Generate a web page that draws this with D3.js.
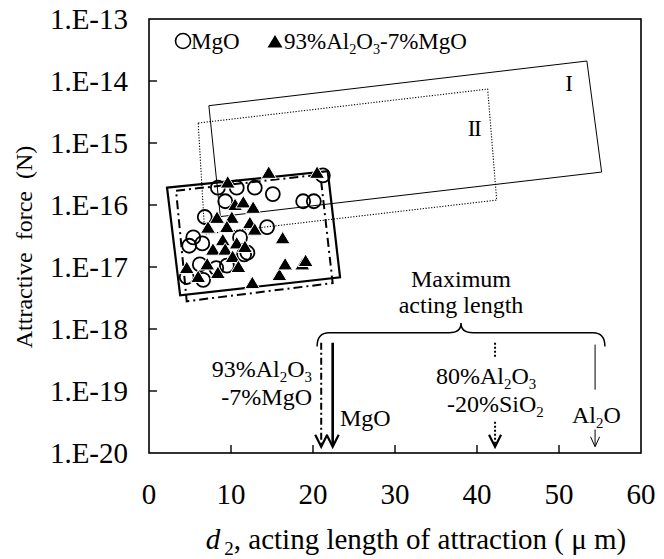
<!DOCTYPE html>
<html>
<head>
<meta charset="utf-8">
<script src="https://cdn.jsdelivr.net/npm/d3@7"></script>
<style>
  body { margin: 0; background: #fff; }
  svg text { font-family: "Liberation Serif", "Times New Roman", serif; fill: #000; white-space: pre; }
</style>
</head>
<body>
<div id="chart"></div>
<script>
// tick values
let xTicks = [0, 10, 20, 30, 40, 50, 60];
let yTicks = [1e-13, 1e-14, 1e-15, 1e-16, 1e-17, 1e-18, 1e-19, 1e-20];

// MgO measurements [d2 (um), force (N)]
let mgo = [
  [8.4, 1.9e-16], [10.7, 1.9e-16], [12.9, 1.9e-16], [15.1, 1.5e-16],
  [18.8, 1.15e-16], [20.1, 1.15e-16], [21.2, 3.0e-16], [9.3, 1.15e-16],
  [6.8, 6.4e-17], [14.4, 4.4e-17], [5.4, 3.0e-17], [6.5, 2.4e-17],
  [4.9, 2.2e-17], [12.0, 1.7e-17], [6.6, 6.2e-18], [11.1, 3.0e-17],
  [6.2, 1.1e-17], [9.5, 1.05e-17], [4.6, 6.9e-18], [8.2, 9.6e-18],
  [11.6, 1.6e-17]
];

// 93%Al2O3-7%MgO measurements [d2 (um), force (N)]
let alMgo = [
  [9.6, 2.3e-16], [14.6, 3.3e-16], [20.5, 3.3e-16], [10.5, 1.0e-16],
  [11.5, 1.1e-16], [12.7, 9.0e-17], [8.3, 6.2e-17], [10.1, 6.2e-17],
  [12.3, 5.1e-17], [7.2, 4.3e-17], [9.5, 4.4e-17], [12.9, 4.0e-17],
  [9.0, 2.7e-17], [10.7, 2.4e-17], [11.7, 2.1e-17], [16.3, 2.9e-17],
  [7.8, 1.9e-17], [9.3, 1.9e-17], [10.2, 1.45e-17], [10.9, 1.0e-17],
  [7.1, 1.1e-17], [8.4, 8.0e-18], [4.6, 9.6e-18], [6.0, 6.9e-18],
  [12.6, 5.5e-18], [15.9, 7.4e-18], [16.6, 1.1e-17], [18.7, 1.1e-17],
  [19.1, 1.25e-17]
];

// region outlines (corners in data units)
let boxI = [[7.3, 4.0e-15], [53.4, 2.1e-14], [55.2, 3.4e-16], [8.7, 6.5e-17]];
let boxII = [[6.0, 2.1e-15], [41.3, 7.4e-15], [42.4, 1.2e-16], [6.8, 3.4e-17]];
let boxMgo = [[2.2, 1.9e-16], [21.8, 3.5e-16], [23.3, 6.8e-18], [3.8, 3.5e-18]];
let boxAlMgo = [[3.3, 1.7e-16], [20.9, 3.1e-16], [22.4, 5.5e-18], [4.6, 2.8e-18]];

// maximum acting length arrows
let arrows = [
  { x: 21.0, top: 6e-19, tip: 1.26e-20, style: 'dashdot' },
  { x: 22.4, top: 6e-19, tip: 1.26e-20, style: 'thick' },
  { x: 42.2, top: 6e-19, tip: 1.26e-20, style: 'dotted', gap: [3.4e-19, 3.2e-20] },
  { x: 54.4, top: 5.6e-19, tip: 1.26e-20, style: 'thin', gap: [1.05e-19, 2.4e-20] }
];
let braceRange = [20.5, 55.6];

let width = 664, height = 559;
let svg = d3.select('#chart').append('svg')
  .attr('width', width)
  .attr('height', height);

let x = d3.scaleLinear().domain([0, 60]).range([149, 641]);
let y = d3.scaleLog().domain([1e-20, 1e-13]).range([453, 19]);

// frame
svg.append('rect')
  .attr('x', x(0)).attr('y', y(1e-13))
  .attr('width', x(60) - x(0)).attr('height', y(1e-20) - y(1e-13))
  .attr('fill', 'none').attr('stroke', '#000').attr('stroke-width', 1.6);

// ticks (inward)
svg.selectAll('.ytick').data(yTicks.slice(1, -1)).enter().append('line')
  .attr('x1', x(0)).attr('x2', x(0) + 8)
  .attr('y1', d => y(d)).attr('y2', d => y(d))
  .attr('stroke', '#000').attr('stroke-width', 1.4);
svg.selectAll('.xtick').data(xTicks.slice(1, -1)).enter().append('line')
  .attr('x1', d => x(d)).attr('x2', d => x(d))
  .attr('y1', y(1e-20)).attr('y2', y(1e-20) - 8)
  .attr('stroke', '#000').attr('stroke-width', 1.4);

// tick labels
svg.selectAll('.ylab').data(yTicks).enter().append('text')
  .attr('x', 128).attr('y', d => y(d))
  .attr('dy', '0.34em')
  .attr('text-anchor', 'end')
  .style('font-size', '29px')
  .text(d => '1.E' + Math.round(Math.log10(d)));
svg.selectAll('.xlab').data(xTicks).enter().append('text')
  .attr('x', d => x(d)).attr('y', 504)
  .attr('text-anchor', 'middle')
  .style('font-size', '29px')
  .text(d => d);

// axis titles
svg.append('text')
  .attr('transform', 'translate(32,247) rotate(-90)')
  .attr('text-anchor', 'middle')
  .style('font-size', '24px')
  .text('Attractive  force  (N)');

let xt = svg.append('text')
  .attr('x', 416).attr('y', 549)
  .attr('text-anchor', 'middle')
  .style('font-size', '29px');
xt.append('tspan').style('font-style', 'italic').text('d');
xt.append('tspan').attr('dy', 6).attr('dx', 4).style('font-size', '19px').text('2');
xt.append('tspan').attr('dy', -6).text(', acting length of attraction ( \u03bc m)');

// region outlines
let line = d3.line().x(d => x(d[0])).y(d => y(d[1])).curve(d3.curveLinearClosed);
svg.append('path').attr('d', line(boxI))
  .attr('fill', 'none').attr('stroke', '#000').attr('stroke-width', 1);
svg.append('path').attr('d', line(boxII))
  .attr('fill', 'none').attr('stroke', '#000').attr('stroke-width', 1.1)
  .attr('stroke-dasharray', '1.2,1.6');
svg.append('path').attr('d', line(boxAlMgo))
  .attr('fill', 'none').attr('stroke', '#000').attr('stroke-width', 2)
  .attr('stroke-dasharray', '9,4,2,4');
svg.append('path').attr('d', line(boxMgo))
  .attr('fill', 'none').attr('stroke', '#000').attr('stroke-width', 2.2);

svg.append('text').attr('x', 569).attr('y', 91).attr('text-anchor', 'middle')
  .style('font-size', '23px').text('I');
svg.append('text').attr('x', 474).attr('y', 136).attr('text-anchor', 'middle')
  .style('font-size', '23px').style('letter-spacing', '-1.5px').text('II');

// markers
let tri = 'M0,-7L7.5,5.5L-7.5,5.5Z';
svg.selectAll('.mgo').data(mgo).enter().append('circle')
  .attr('cx', d => x(d[0])).attr('cy', d => y(d[1])).attr('r', 7)
  .attr('fill', 'none').attr('stroke', '#000').attr('stroke-width', 1.8);
svg.selectAll('.almgo').data(alMgo).enter().append('path')
  .attr('d', tri)
  .attr('transform', d => 'translate(' + x(d[0]) + ',' + y(d[1]) + ')')
  .attr('fill', '#000').attr('stroke', '#fff').attr('stroke-width', 1);

// legend
svg.append('circle').attr('cx', 183).attr('cy', 41).attr('r', 7.5)
  .attr('fill', 'none').attr('stroke', '#000').attr('stroke-width', 1.6);
svg.append('text').attr('x', 191).attr('y', 49).style('font-size', '23px').text('MgO');
svg.append('path').attr('d', tri).attr('transform', 'translate(275,42)').attr('fill', '#000');
function rich(sel, parts, size) {
  let prevSub = false;
  parts.forEach(p => {
    let sub = p[1];
    let dy = sub && !prevSub ? size * 0.22 : (!sub && prevSub ? -size * 0.22 : 0);
    sel.append('tspan').attr('dy', dy)
      .style('font-size', (sub ? size * 0.62 : size) + 'px').text(p[0]);
    prevSub = sub;
  });
}
let al2o3 = [['93%Al', 0], ['2', 1], ['O', 0], ['3', 1], ['-7%MgO', 0]];
rich(svg.append('text').attr('x', 284).attr('y', 49), al2o3, 23);

// brace
let bx0 = x(braceRange[0]), bx1 = x(braceRange[1]), bm = (bx0 + bx1) / 2;
let by = y(8.7e-19), byEnd = y(5.2e-19), byTip = y(1.25e-18);
svg.append('path')
  .attr('d', 'M' + bx0 + ',' + byEnd + 'Q' + bx0 + ',' + by + ' ' + (bx0 + 12) + ',' + by +
    'L' + (bm - 12) + ',' + by + 'Q' + bm + ',' + by + ' ' + bm + ',' + byTip +
    'Q' + bm + ',' + by + ' ' + (bm + 12) + ',' + by +
    'L' + (bx1 - 12) + ',' + by + 'Q' + bx1 + ',' + by + ' ' + bx1 + ',' + byEnd)
  .attr('fill', 'none').attr('stroke', '#000').attr('stroke-width', 1.5);
svg.append('text').attr('x', bm).attr('y', 287).attr('text-anchor', 'middle')
  .style('font-size', '24px').text('Maximum');
svg.append('text').attr('x', bm).attr('y', 313).attr('text-anchor', 'middle')
  .style('font-size', '24px').text('acting length');

// arrows
let styles = {
  dashdot: { w: 2, dash: '7,3,2,3', head: 6 },
  thick: { w: 2.6, dash: null, head: 6 },
  dotted: { w: 2, dash: '2,2', head: 6 },
  thin: { w: 1, dash: null, head: 4.5 }
};
arrows.forEach(a => {
  let s = styles[a.style];
  let ax = x(a.x), ty = y(a.top), tip = y(a.tip);
  let g = svg.append('g').attr('stroke', '#000').attr('fill', 'none').attr('stroke-width', s.w);
  let segs = a.gap ? [[ty, y(a.gap[0])], [y(a.gap[1]), tip - 1]] : [[ty, tip - 1]];
  segs.forEach(sg => {
    g.append('line').attr('x1', ax).attr('x2', ax).attr('y1', sg[0]).attr('y2', sg[1])
      .attr('stroke-dasharray', s.dash);
  });
  let hl = a.style === 'thin' ? 10 : 12;
  g.append('path').attr('d', 'M' + (ax - s.head) + ',' + (tip - hl) + 'L' + ax + ',' + tip + 'L' + (ax + s.head) + ',' + (tip - hl))
    .attr('stroke-width', a.style === 'thin' ? 1 : 2.2);
});

// arrow labels
rich(svg.append('text').attr('x', 312).attr('y', 377).attr('text-anchor', 'end'),
  [['93%Al', 0], ['2', 1], ['O', 0], ['3', 1]], 24);
svg.append('text').attr('x', 312).attr('y', 405).attr('text-anchor', 'end')
  .style('font-size', '24px').text('-7%MgO');
svg.append('text').attr('x', 340).attr('y', 426).style('font-size', '24px').text('MgO');
rich(svg.append('text').attr('x', 436).attr('y', 384),
  [['80%Al', 0], ['2', 1], ['O', 0], ['3', 1]], 24);
rich(svg.append('text').attr('x', 447).attr('y', 412),
  [['-20%SiO', 0], ['2', 1]], 24);
rich(svg.append('text').attr('x', 572).attr('y', 423),
  [['Al', 0], ['2', 1], ['O', 0]], 24);
</script>
</body>
</html>
